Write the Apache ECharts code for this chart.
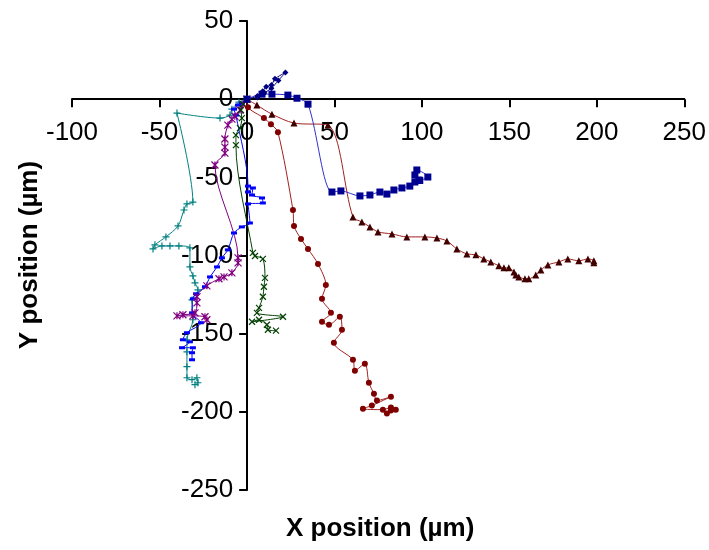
<!DOCTYPE html>
<html>
<head>
<meta charset="utf-8">
<script src="https://cdn.jsdelivr.net/npm/echarts@6/dist/echarts.min.js"></script>
<style>
  html, body { margin: 0; padding: 0; background: #fff; }
  #chart { width: 709px; height: 550px; }
</style>
</head>
<body>
<div id="chart"></div>
<script>
// tracks, [x, y] in µm
var trackDiamond = [[0,0],[6,2],[9,5],[11,8],[14,9],[16,13],[22,17],[18,12],[14,7],[10,4],[6,1]];
var trackSquare = [[0,0],[8.6,3.2],[14.3,3.2],[23.4,2.6],[28.6,0.6],[34.9,-3.2],[48.6,-59.4],[53.7,-58.7],
  [64.6,-61.9],[70.3,-61.3],[76,-59.4],[80,-60.7],[84,-58.1],[88.6,-56.8],[93.1,-55.6],[96,-53],[98.3,-51.7],
  [96,-48.5],[97.1,-45.3],[103.4,-49.8],[98.8,-52]];
var trackTriangle = [[0,0],[5.7,-3.8],[14.3,-9.6],[26.9,-15.3],[46.3,-16.6],[60.6,-75.4],[65.7,-78.5],
  [70.3,-81.7],[74.9,-84.9],[82.9,-86.2],[91.4,-88.1],[101.7,-88.1],[108.6,-88.8],[114.3,-90.7],[120,-95.8],
  [125.7,-99],[130.9,-99.6],[135.4,-102.2],[139.4,-104.1],[144,-106.6],[146.9,-107.9],[149.7,-107.9],
  [152.6,-110.5],[153.7,-112.4],[155.4,-113.7],[158.9,-114.9],[161.1,-114.9],[165.1,-112.4],[168,-109.2],
  [172,-106],[178.3,-104.1],[183.4,-102.2],[189.7,-103.4],[194.9,-102.2],[198.3,-103.4],[198.3,-104.7]];
var trackCircle = [[0,0],[0.6,-5.1],[9.7,-12.1],[13.7,-16],[17.7,-21.1],[26.3,-70.9],[26.9,-81.1],[30.9,-89.4],
  [34.9,-95.8],[40.6,-105.4],[45.1,-118.8],[42.9,-127.7],[48,-136.7],[42.9,-142.4],[46.9,-144.3],[53.1,-139.2],
  [54.3,-147.5],[49.7,-155.8],[60.6,-166.7],[61.7,-173.7],[67.4,-169.2],[69.7,-181.4],[72.6,-188.4],
  [74.3,-192.8],[82.3,-190.3],[71.4,-196],[66.3,-198],[77.7,-198.6],[82.3,-197.3],[85.1,-198.6],[80,-201.1],
  [82.3,-199.2]];
var trackCross = [[0,0],[-2.3,-3.2],[-3.4,-7],[-2.9,-12.1],[-4,-18.5],[-6.3,-23],[-6.3,-29.4],[3.4,-98.3],
  [4.6,-100.3],[9.1,-102.2],[10.3,-114.3],[9.7,-120],[9.1,-126.4],[6.9,-133.5],[5.7,-136.7],[20.6,-139.2],
  [2.9,-142.4],[6.9,-141.1],[11.4,-144.3],[12,-147.5],[16.6,-148.1]];
var trackStar = [[0,0],[-2.3,-3.2],[-4,-7],[-6.9,-10.9],[-8.6,-12.8],[-10.9,-16.6],[-12.6,-25.5],[-12.6,-30.7],
  [-12.6,-34.5],[-18.3,-42.1],[-5.1,-101.5],[-5.1,-104.7],[-8.6,-111.1],[-13.1,-113.7],[-16,-114.9],
  [-22.9,-119.4],[-28.6,-126.4],[-28.6,-130.3],[-29.7,-136.7],[-36.6,-137.9],[-40,-138.6],[-30.9,-138.6],
  [-24,-139.2],[-22.9,-141.1]];
var trackDash = [[0,0],[-2.9,-2.6],[-5.1,-3.8],[-7.4,-6.4],[-6.3,-10.2],[0.6,-55.6],[0.6,-59.4],[3.4,-56.8],
  [2.9,-61.3],[8.6,-63.2],[9.1,-66.4],[0.6,-67],[1.7,-79.2],[-2.9,-81.7],[-7.4,-85.6],[-10.9,-96.4],
  [-14.3,-101.5],[-17.1,-107.3],[-21.1,-113.7],[-24,-120],[-29.1,-124.5],[-30.9,-127.7],[-31.4,-136.7],
  [-26.3,-143],[-34.3,-149.4],[-36.6,-153.9],[-32.6,-155.2],[-37.1,-159],[-30.9,-159],[-31.4,-162.2],
  [-31.4,-166.7]];
var trackPlus = [[0,0],[-4.6,-1.9],[-8.6,-6.4],[-9.7,-10.2],[-15.4,-12.1],[-40,-8.9],[-30.9,-65.8],
  [-34.3,-67],[-36,-70.9],[-39.4,-81.1],[-46.3,-88.1],[-52.6,-93.2],[-53.7,-95.8],[-48.6,-93.9],[-44,-93.9],
  [-38.9,-93.9],[-32.6,-95.1],[-32.6,-107.3],[-30.9,-113],[-29.7,-117.5],[-28,-122],[-31.4,-128.4],
  [-30.9,-141.1],[-34.3,-153.9],[-34.3,-161.6],[-34.3,-171.1],[-34.3,-178.2],[-31.4,-179.4],[-28.6,-178.2],
  [-28,-181.4],[-29.7,-182.6]];

var xTicks = { min: -100, max: 250, interval: 50 };
var yTicks = { min: -250, max: 50, interval: 50 };

var PLUS = "path://M5,0L5,10M0,5L10,5";
var CROSS = "path://M0,0L10,10M10,0L0,10";
var STAR = "path://M0,0L10,10M10,0L0,10M5,0L5,10";

function track(data, lineColor, markColor, symbol, size, stroked) {
  return {
    type: "line",
    data: data,
    smooth: 0.3,
    symbol: symbol,
    symbolSize: size,
    showAllSymbol: true,
    lineStyle: { color: lineColor, width: 1 },
    itemStyle: stroked
      ? { color: markColor, borderColor: markColor, borderWidth: 1.2 }
      : { color: markColor, borderWidth: 0 },
    z: 3
  };
}

var gridBox = { left: 72, right: 24, top: 21, bottom: 60, width: 613, height: 469 };
// put the axes (and their labels) through the origin, like the Excel chart
var xOffset = -gridBox.height * (0 - yTicks.min) / (yTicks.max - yTicks.min);
var yOffset = -gridBox.width * (0 - xTicks.min) / (xTicks.max - xTicks.min);

var chart = echarts.init(document.getElementById("chart"), null, { renderer: "canvas" });
var axisFont = { fontFamily: "Liberation Sans, Arial, sans-serif", fontSize: 26, color: "#000" };
var titleFont = { fontFamily: "Liberation Sans, Arial, sans-serif", fontSize: 26, fontWeight: "bold", fill: "#000" };

chart.setOption({
  animation: false,
  grid: { left: gridBox.left, right: gridBox.right, top: gridBox.top, bottom: gridBox.bottom, containLabel: false },
  xAxis: {
    type: "value",
    position: "bottom",
    offset: xOffset,
    min: xTicks.min, max: xTicks.max, interval: xTicks.interval,
    axisLine: { onZero: false, lineStyle: { color: "#000", width: 2 } },
    axisTick: { length: 8, lineStyle: { color: "#000", width: 2 } },
    axisLabel: Object.assign({ margin: 21 }, axisFont),
    splitLine: { show: false }
  },
  yAxis: {
    type: "value",
    position: "left",
    offset: yOffset,
    min: yTicks.min, max: yTicks.max, interval: yTicks.interval,
    axisLine: { onZero: false, lineStyle: { color: "#000", width: 2 } },
    axisTick: { length: 8, lineStyle: { color: "#000", width: 2 } },
    axisLabel: Object.assign({ margin: 14 }, axisFont),
    splitLine: { show: false }
  },
  graphic: [
    { type: "text", left: 286, top: 516, style: Object.assign({ text: "X position (µm)" }, titleFont) },
    { type: "text", x: 30, y: 255, rotation: Math.PI / 2,
      style: Object.assign({ text: "Y position (µm)", align: "center", verticalAlign: "middle" }, titleFont) }
  ],
  series: [
    track(trackPlus, "#008080", "#008080", PLUS, 7, true),
    track(trackDash, "#0000ff", "#0000ff", "rect", [6, 3], false),
    track(trackStar, "#800080", "#800080", STAR, 7, true),
    track(trackCross, "#004000", "#004000", CROSS, 6, true),
    track(trackCircle, "#a02020", "#800000", "circle", 6, false),
    track(trackTriangle, "#a02020", "#400000", "triangle", 7, false),
    track(trackSquare, "#3030d0", "#000090", "rect", 7, false),
    track(trackDiamond, "#000080", "#000080", "diamond", 6, false)
  ]
});
</script>
</body>
</html>
